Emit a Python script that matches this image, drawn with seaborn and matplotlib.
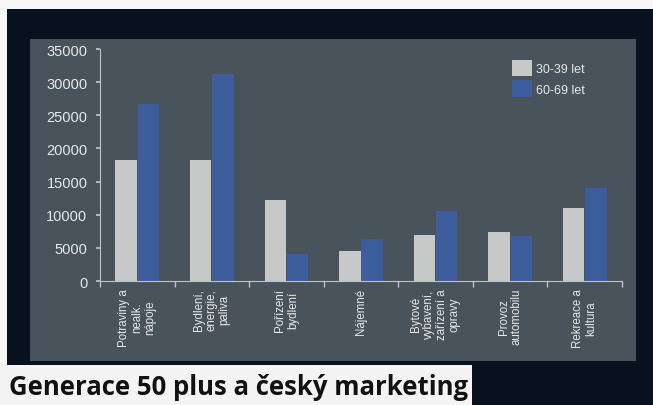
import matplotlib
matplotlib.use("Agg")
import matplotlib.pyplot as plt
import seaborn as sns
import pandas as pd
from matplotlib.patches import Rectangle

categories = ["Potraviny a\nnealk.\nnápoje", "Bydlení,\nenergie,\npaliva", "Pořízení\nbydlení",
              "Nájemné", "Bytové\nvybavení,\nzařízení a\nopravy", "Provoz\nautomobilu",
              "Rekreace a\nkultura"]
series_names = ["30-39 let", "60-69 let"]
values_30_39 = [18200, 18200, 12200, 4500, 7000, 7400, 11000]
values_60_69 = [26700, 31200, 4000, 6300, 10500, 6800, 14000]
y_ticks = [0, 5000, 10000, 15000, 20000, 25000, 30000, 35000]
title = "Generace 50 plus a český marketing"

df = pd.DataFrame({
    "kategorie": categories * 2,
    "skupina": [series_names[0]] * len(categories) + [series_names[1]] * len(categories),
    "hodnota": values_30_39 + values_60_69,
})

sns.set_theme(style="white")
plt.rcParams["font.family"] = ["Liberation Sans", "DejaVu Sans"]

W, H = 653, 406
fig = plt.figure(figsize=(W / 100, H / 100), dpi=100)
fig.patch.set_facecolor("#08121f")

def frect(x0, y0, x1, y1, color, z=0):
    fig.add_artist(Rectangle((x0 / W, 1 - y1 / H), (x1 - x0) / W, (y1 - y0) / H,
                             transform=fig.transFigure, facecolor=color,
                             edgecolor="none", zorder=z))

# white borders of the photo
frect(0, 0, W, 10, "#f7f7f7")
frect(0, 0, 7, H, "#f7f7f7")
# slide panel
frect(30, 40, 636, 362, "#49535b")
# title strip
frect(0, 366, 472, H, "#f4f4f4", z=1)

ax = fig.add_axes([100 / W, 1 - 282 / H, (622 - 100) / W, (282 - 50) / H])
ax.set_facecolor("none")

sns.barplot(data=df, x="kategorie", y="hodnota", hue="skupina",
            palette=["#c7c8c8", "#3d5d9d"], width=0.6, gap=0.04, ax=ax,
            saturation=1, edgecolor="none")

ax.set_ylim(0, 35000)
ax.set_yticks(y_ticks)
ax.set_yticklabels([str(t) for t in y_ticks], color="#e6e8ea", fontsize=10.5)
ax.set_xlim(-0.5, len(categories) - 0.5)
ax.set_xlabel("")
ax.set_ylabel("")
ax.set_xticks(range(len(categories)))
ax.set_xticklabels(categories, rotation=90, color="#e6e8ea", fontsize=8.3,
                   va="top", ha="center", linespacing=1.1)
ax.set_xticks([i - 0.5 for i in range(len(categories) + 1)], minor=True)
ax.tick_params(axis="x", which="major", length=0, pad=5)
ax.tick_params(axis="x", which="minor", length=4, color="#bfc3c7", direction="out", bottom=True)
ax.tick_params(axis="y", length=3, color="#bfc3c7", left=True, pad=6)
for s in ["top", "right"]:
    ax.spines[s].set_visible(False)
for s in ["left", "bottom"]:
    ax.spines[s].set_color("#bfc3c7")
    ax.spines[s].set_linewidth(0.8)

leg = ax.legend(loc="upper left", bbox_to_anchor=((512 - 100) / 522, (282 - 61) / 232),
                frameon=False, fontsize=9, handlelength=1.6, handleheight=1.6,
                handletextpad=0.35, labelspacing=0.35, borderaxespad=0, borderpad=0)
for t in leg.get_texts():
    t.set_color("#e6e8ea")

fig.text(9 / W, 1 - 388 / H, title,
         fontsize=18.5, fontweight="bold", color="#111111", va="center", ha="left",
         family=["Open Sans", "DejaVu Sans"], zorder=2)

fig.savefig("out.png", dpi=100, facecolor=fig.get_facecolor())
